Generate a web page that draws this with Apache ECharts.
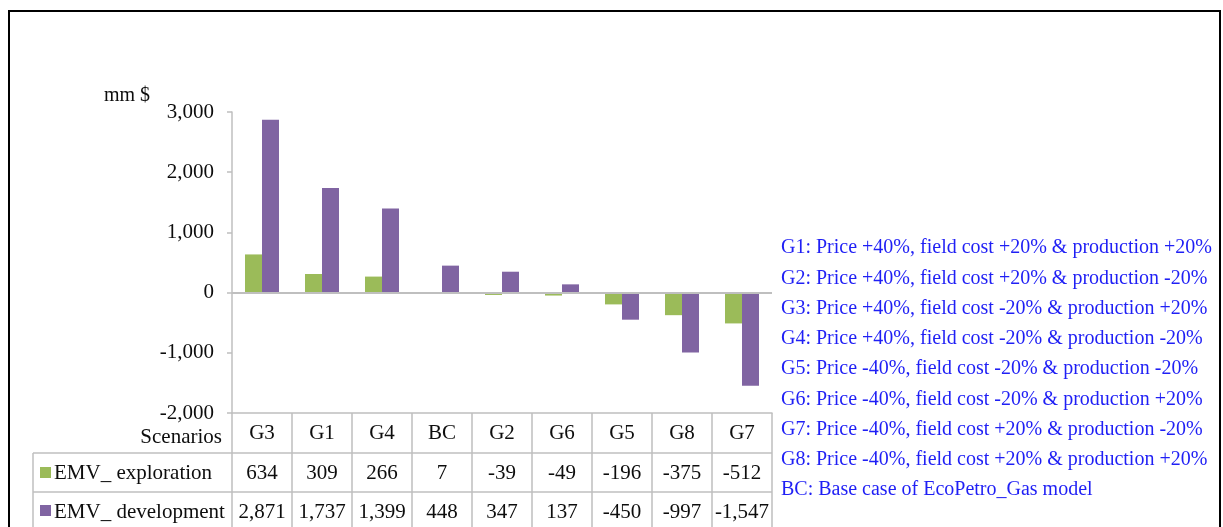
<!DOCTYPE html>
<html>
<head>
<meta charset="utf-8">
<script src="https://cdn.jsdelivr.net/npm/echarts@6/dist/echarts.min.js"></script>
<style>
  html, body { margin: 0; padding: 0; background: #fff; }
  #chart { width: 1223px; height: 527px; }
</style>
</head>
<body>
<div id="chart"></div>
<script>
// Scenario order as plotted
const categories = ['G3', 'G1', 'G4', 'BC', 'G2', 'G6', 'G5', 'G8', 'G7'];
// Expected monetary value, mm $
const emvExploration = [634, 309, 266, 7, -39, -49, -196, -375, -512];
const emvDevelopment = [2871, 1737, 1399, 448, 347, 137, -450, -997, -1547];
const seriesNames = ['EMV_ exploration', 'EMV_ development'];
const yTicks = { min: -2000, max: 3000, step: 1000 };
const scenarioNotes = [
  'G1: Price +40%, field cost +20% & production +20%',
  'G2: Price +40%, field cost +20% & production -20%',
  'G3: Price +40%, field cost -20% & production +20%',
  'G4: Price +40%, field cost -20% & production -20%',
  'G5: Price -40%, field cost -20% & production -20%',
  'G6: Price -40%, field cost -20% & production +20%',
  'G7: Price -40%, field cost +20% & production -20%',
  'G8: Price -40%, field cost +20% & production +20%',
  'BC: Base case of EcoPetro_Gas model'
];

const SERIF = '"Liberation Serif", "Times New Roman", "DejaVu Serif", serif';
const GREEN = '#9BBB59';
const PURPLE = '#8064A2';
const GRID_LINE = '#bfbfbf';
const TEXT = '#0d0d0d';
const fmt = v => v.toLocaleString('en-US');

const chart = echarts.init(document.getElementById('chart'), null, { renderer: 'canvas' });

chart.setOption({
  animation: false,
  backgroundColor: '#fff',
  grid: { left: 232, right: 451, top: 112, bottom: 114, containLabel: false, outerBoundsMode: 'none' },
  xAxis: {
    type: 'category',
    data: categories,
    position: 'bottom',
    axisLine: { onZero: false, lineStyle: { color: GRID_LINE, width: 1.5 } },
    axisTick: { show: true, length: 125, interval: 0, lineStyle: { color: GRID_LINE, width: 1.5 } },
    axisLabel: {
      interval: 0,
      margin: 1,
      fontFamily: SERIF,
      fontSize: 21,
      color: TEXT,
      lineHeight: 39.5,
      formatter: (val, i) => val + '\n' + fmt(emvExploration[i]) + '\n' + fmt(emvDevelopment[i])
    }
  },
  yAxis: {
    type: 'value',
    min: yTicks.min,
    max: yTicks.max,
    interval: yTicks.step,
    axisLine: { show: true, lineStyle: { color: GRID_LINE, width: 1.5 } },
    axisTick: { show: true, length: 5, lineStyle: { color: GRID_LINE, width: 1.5 } },
    splitLine: { show: false },
    axisLabel: {
      margin: 18,
      fontFamily: SERIF,
      fontSize: 21,
      color: TEXT,
      formatter: v => fmt(v)
    }
  },
  series: [
    {
      name: seriesNames[0],
      type: 'bar',
      data: emvExploration,
      barWidth: 17,
      barGap: '0%',
      itemStyle: { color: GREEN }
    },
    {
      name: seriesNames[1],
      type: 'bar',
      data: emvDevelopment,
      barWidth: 17,
      barGap: '0%',
      itemStyle: { color: PURPLE },
      markLine: {
        silent: true,
        symbol: 'none',
        label: { show: false },
        lineStyle: { color: GRID_LINE, width: 2, type: 'solid' },
        data: [{ yAxis: 0 }]
      }
    }
  ],
  graphic: [
    // outer frame
    { type: 'rect', shape: { x: 9, y: 11, width: 1211, height: 530 },
      style: { fill: 'none', stroke: '#000', lineWidth: 2 }, silent: true },
    // unit label
    { type: 'text', x: 104, y: 96,
      style: { text: 'mm $', font: '20px ' + SERIF, fill: TEXT, verticalAlign: 'middle' } },
    // data-table frame
    { type: 'line', shape: { x1: 33, y1: 453, x2: 772, y2: 453 }, style: { stroke: GRID_LINE, lineWidth: 1.5 } },
    { type: 'line', shape: { x1: 33, y1: 492, x2: 772, y2: 492 }, style: { stroke: GRID_LINE, lineWidth: 1.5 } },
    { type: 'line', shape: { x1: 33, y1: 453, x2: 33, y2: 540 }, style: { stroke: GRID_LINE, lineWidth: 1.5 } },
    // row headers
    { type: 'text', x: 222, y: 437,
      style: { text: 'Scenarios', font: '21px ' + SERIF, fill: TEXT, align: 'right', verticalAlign: 'middle' } },
    { type: 'rect', shape: { x: 40, y: 467, width: 11, height: 11 }, style: { fill: GREEN } },
    { type: 'text', x: 54, y: 473,
      style: { text: seriesNames[0], font: '21px ' + SERIF, fill: TEXT, verticalAlign: 'middle' } },
    { type: 'rect', shape: { x: 40, y: 505, width: 11, height: 11 }, style: { fill: PURPLE } },
    { type: 'text', x: 54, y: 512,
      style: { text: seriesNames[1], font: '21px ' + SERIF, fill: TEXT, verticalAlign: 'middle' } },
    // scenario definitions
    { type: 'text', x: 781, y: 233,
      style: { text: scenarioNotes.join('\n'), font: '20px ' + SERIF, fill: '#1f1ff5',
               lineHeight: 30.25, verticalAlign: 'top' } }
  ]
});
</script>
</body>
</html>
